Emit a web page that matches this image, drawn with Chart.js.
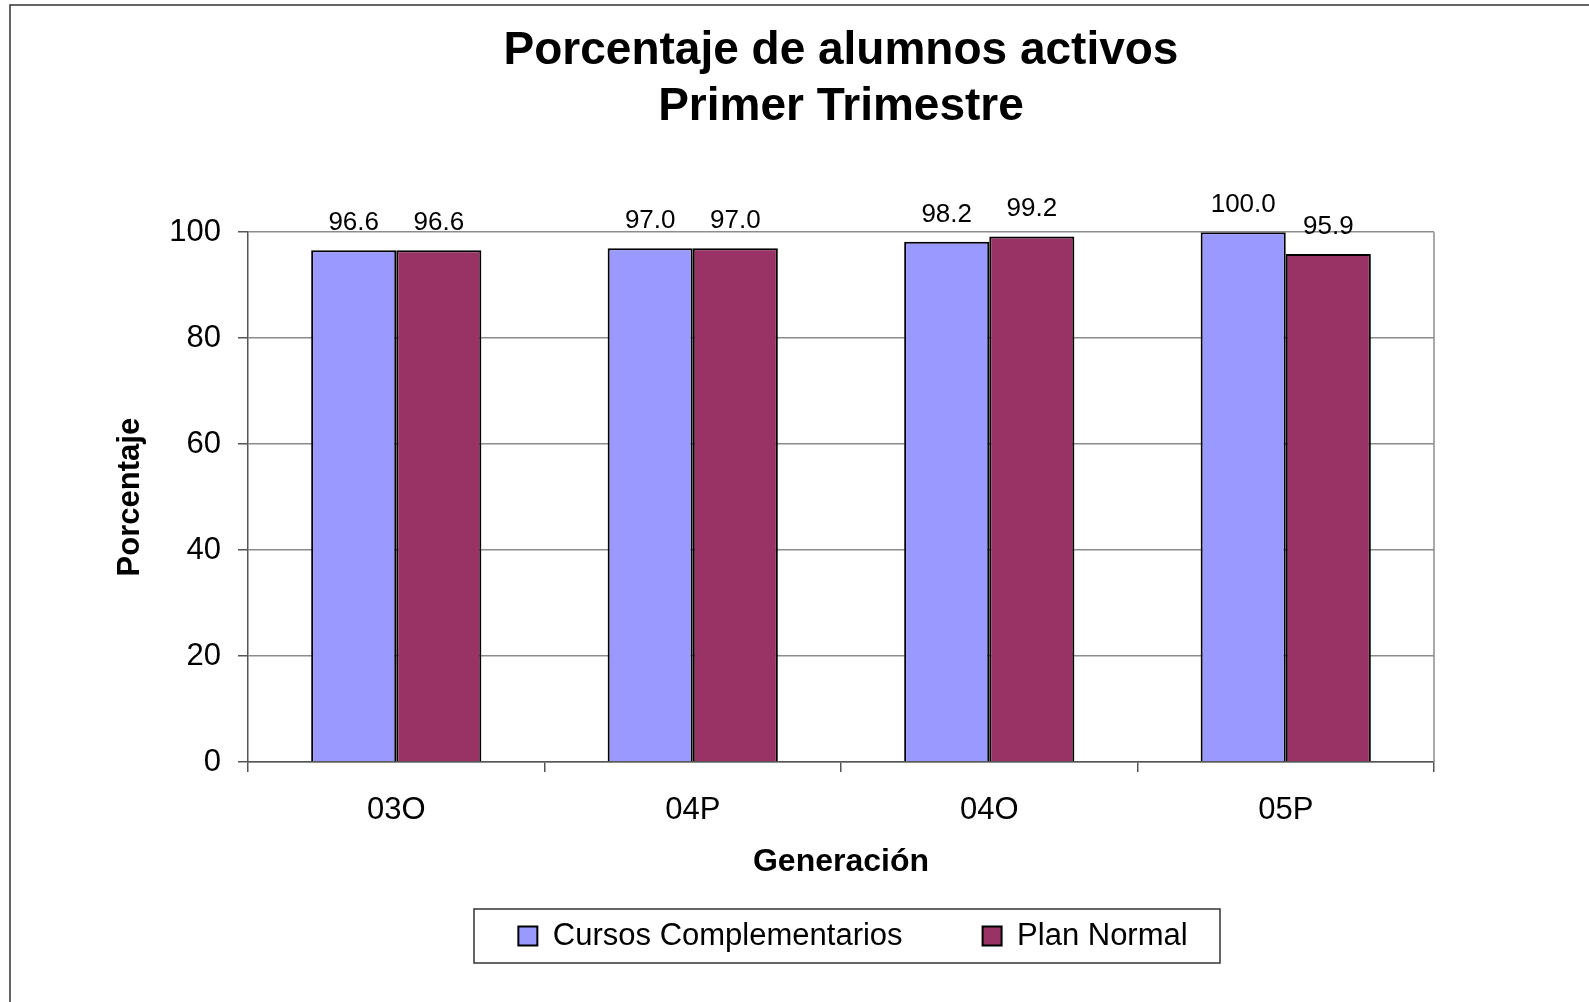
<!DOCTYPE html>
<html>
<head>
<meta charset="utf-8">
<title>Porcentaje de alumnos activos</title>
<script src="https://cdn.jsdelivr.net/npm/chart.js@4.4.1/dist/chart.umd.min.js"></script>
<style>
  html, body { margin: 0; padding: 0; background: #fff; }
  canvas { display: block; }
</style>
</head>
<body>
<canvas id="grafica" width="1589" height="1002"></canvas>
<script>
var generaciones = ['03O', '04P', '04O', '05P'];
var cursosComplementarios = [96.6, 97.0, 98.2, 100.0];
var planNormal = [96.6, 97.0, 99.2, 95.9];
var nombresSeries = ['Cursos Complementarios', 'Plan Normal'];
var titulo = ['Porcentaje de alumnos activos', 'Primer Trimestre'];
var tituloEjeY = 'Porcentaje';
var tituloEjeX = 'Generación';
var marcasY = [0, 20, 40, 60, 80, 100];

Chart.defaults.font.family = "'Liberation Sans', Arial, sans-serif";
Chart.defaults.color = '#000';

var sepLeyenda = 80;
var letraLeyenda = 31;

// marco, borde derecho del area, caja de leyenda y etiquetas de valores
var extras = {
    id: 'extras',
    afterLayout: function (chart) {
        var area = chart.chartArea;
        var cx = (area.left + area.right) / 2;

        // titulo centrado sobre el area de trazado
        var t = chart.titleBlock;
        t.left = area.left;
        t.right = area.right;
        t.width = area.right - area.left;

        var lg = chart.legend;
        lg.left = cx + 12 - 500;
        lg.right = cx + 12 + 500;
        lg.width = 1000;
        lg.top = 936 - letraLeyenda / 2 - sepLeyenda;
        lg.bottom = 1002;
        lg.height = lg.bottom - lg.top;
    },
    beforeDraw: function (chart) {
        var ctx = chart.ctx;
        ctx.save();
        ctx.fillStyle = '#fff';
        ctx.fillRect(0, 0, chart.width, chart.height);
        ctx.strokeStyle = '#333';
        ctx.lineWidth = 1.5;
        ctx.beginPath();
        ctx.moveTo(10, chart.height + 2);
        ctx.lineTo(10, 5);
        ctx.lineTo(chart.width + 2, 5);
        ctx.stroke();
        ctx.restore();
    },
    beforeDatasetsDraw: function (chart) {
        var ctx = chart.ctx;
        var area = chart.chartArea;
        ctx.save();
        ctx.strokeStyle = '#8c8c8c';
        ctx.lineWidth = 1.5;
        ctx.beginPath();
        ctx.moveTo(area.right, area.top);
        ctx.lineTo(area.right, area.bottom);
        ctx.stroke();
        ctx.restore();
    },
    afterDatasetsDraw: function (chart) {
        var ctx = chart.ctx;
        ctx.save();
        ctx.font = "26px 'Liberation Sans', Arial, sans-serif";
        ctx.fillStyle = '#000';
        ctx.textAlign = 'center';
        ctx.textBaseline = 'alphabetic';
        chart.data.datasets.forEach(function (ds, i) {
            var meta = chart.getDatasetMeta(i);
            meta.data.forEach(function (bar, j) {
                ctx.fillText(ds.data[j].toFixed(1), bar.x, bar.y - 20);
            });
        });
        ctx.restore();
    },
    afterDraw: function (chart) {
        var ctx = chart.ctx;
        var area = chart.chartArea;
        var cx = (area.left + area.right) / 2 + 6;
        ctx.save();
        ctx.strokeStyle = '#333';
        ctx.lineWidth = 1.5;
        ctx.strokeRect(cx - 373, 936 - 27, 746, 54);
        ctx.restore();
    }
};

var ctx = document.getElementById('grafica');

var grafica = new Chart(ctx, {
    type: 'bar',
    data: {
        labels: generaciones,
        datasets: [{
                label: nombresSeries[0],
                data: cursosComplementarios,
                backgroundColor: '#9999FF',
                borderColor: '#000',
                borderWidth: 2
            }, {
                label: nombresSeries[1],
                data: planNormal,
                backgroundColor: '#993366',
                borderColor: '#000',
                borderWidth: 2
            }]
    },
    options: {
        responsive: false,
        animation: false,
        devicePixelRatio: 1,
        categoryPercentage: 0.574,
        barPercentage: 1,
        layout: {
            padding: {left: 108, right: 155, top: 0, bottom: 0}
        },
        plugins: {
            title: {
                display: true,
                text: titulo,
                color: '#000',
                font: {size: 46, weight: 'bold', lineHeight: 1.22},
                padding: {top: 23, bottom: 97}
            },
            legend: {
                position: 'bottom',
                maxHeight: 125,
                labels: {
                    boxWidth: 19,
                    boxHeight: 19,
                    padding: sepLeyenda,
                    color: '#000',
                    font: {size: letraLeyenda}
                }
            },
            tooltip: {enabled: false}
        },
        scales: {
            x: {
                grid: {
                    display: true,
                    drawOnChartArea: false,
                    drawTicks: true,
                    tickLength: 10,
                    color: '#555',
                    lineWidth: 1.5
                },
                border: {color: '#555', width: 1.5},
                ticks: {font: {size: 31}, padding: 20, color: '#000'},
                title: {
                    display: true,
                    text: tituloEjeX,
                    color: '#000',
                    font: {size: 32, weight: 'bold', lineHeight: 1.2},
                    padding: {top: 0, bottom: 0}
                },
                afterFit: function (s) {
                    s.height = 119;
                }
            },
            y: {
                min: 0,
                max: 100,
                afterBuildTicks: function (s) {
                    s.ticks = marcasY.map(function (v) {
                        return {value: v};
                    });
                },
                ticks: {font: {size: 31}, padding: 17, color: '#000'},
                grid: {
                    color: '#8c8c8c',
                    lineWidth: 1.5,
                    tickLength: 10,
                    tickColor: '#555'
                },
                border: {color: '#555', width: 1.5},
                title: {
                    display: true,
                    text: tituloEjeY,
                    color: '#000',
                    font: {size: 31, weight: 'bold', lineHeight: 1.2},
                    padding: {top: 4, bottom: 0}
                },
                afterFit: function (s) {
                    s.width = 140;
                }
            }
        }
    },
    plugins: [extras]
});
</script>
</body>
</html>
